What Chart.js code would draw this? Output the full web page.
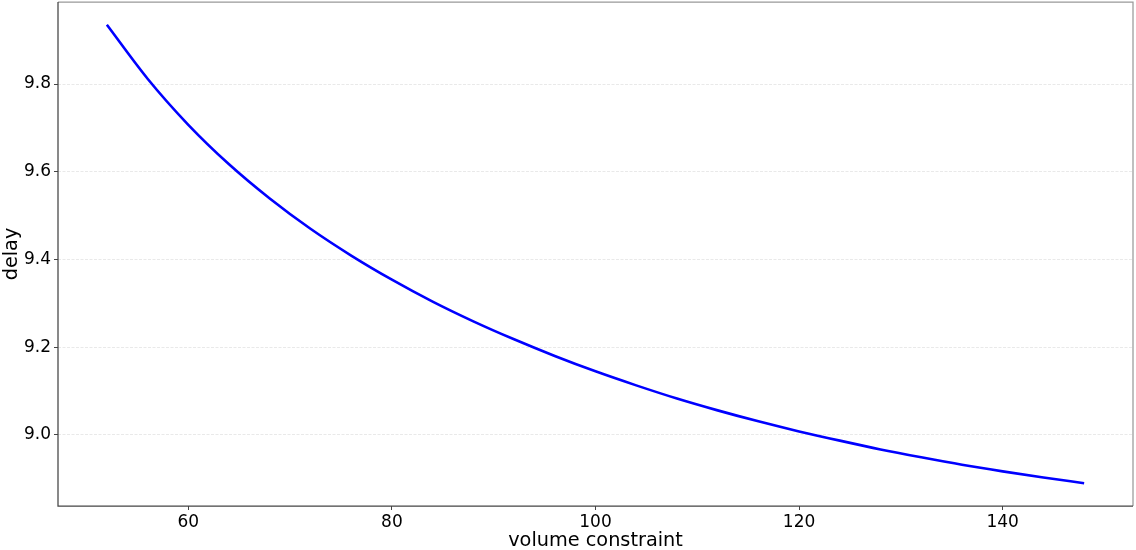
<!DOCTYPE html>
<html>
<head>
<meta charset="utf-8">
<script src="https://cdn.jsdelivr.net/npm/chart.js@4/dist/chart.umd.min.js"></script>
<style>
  html, body { margin: 0; padding: 0; background: #ffffff; }
  canvas { display: block; }
</style>
</head>
<body>
<canvas id="c" width="1136" height="550"></canvas>
<script>
const volumeConstraint = [52, 56, 60, 64, 68, 72, 76, 80, 84, 88, 92, 96, 100,
  104, 108, 112, 116, 120, 124, 128, 132, 136, 140, 144, 148];
const delay = [9.935, 9.812, 9.707, 9.617, 9.539, 9.470, 9.409, 9.354, 9.304,
  9.259, 9.218, 9.180, 9.145, 9.113, 9.083, 9.056, 9.031, 9.008, 8.987,
  8.967, 8.949, 8.932, 8.917, 8.903, 8.890];
const xTicks = [60, 80, 100, 120, 140];
const yTicks = [9.0, 9.2, 9.4, 9.6, 9.8];
const xLabel = 'volume constraint';
const yLabel = 'delay';

const FONT = "'DejaVu Sans', 'Liberation Sans', sans-serif";

const framePlugin = {
  id: 'frame',
  afterDraw(chart) {
    const { ctx, chartArea: a } = chart;
    ctx.save();
    ctx.lineWidth = 1.25;
    ctx.strokeStyle = '#999999';
    ctx.beginPath();
    ctx.moveTo(a.left, a.top);
    ctx.lineTo(a.right, a.top);
    ctx.lineTo(a.right, a.bottom);
    ctx.stroke();
    ctx.strokeStyle = '#444444';
    ctx.beginPath();
    ctx.moveTo(a.left, a.top);
    ctx.lineTo(a.left, a.bottom);
    ctx.lineTo(a.right, a.bottom);
    ctx.stroke();
    ctx.restore();
  }
};

new Chart(document.getElementById('c'), {
  type: 'line',
  data: {
    datasets: [{
      data: volumeConstraint.map((x, i) => ({ x: x, y: delay[i] })),
      borderColor: '#0000ff',
      borderWidth: 2.6,
      pointRadius: 0,
      fill: false,
      cubicInterpolationMode: 'monotone'
    }]
  },
  options: {
    responsive: false,
    animation: false,
    devicePixelRatio: 1,
    layout: { padding: { top: 2, right: 3, left: 0, bottom: 0 } },
    plugins: { legend: { display: false }, tooltip: { enabled: false } },
    scales: {
      x: {
        type: 'linear',
        min: 47.2,
        max: 152.8,
        afterBuildTicks: s => { s.ticks = xTicks.map(v => ({ value: v })); },
        afterFit: s => { s.height = 44; s.paddingLeft = 0; s.paddingRight = 0; },
        grid: {
          drawOnChartArea: false,
          drawTicks: true,
          tickLength: 4,
          tickColor: '#444444',
          tickWidth: 1
        },
        border: { display: false },
        ticks: {
          color: '#000000',
          padding: 2,
          maxRotation: 0,
          font: { family: FONT, size: 17 },
          callback: v => String(v)
        },
        title: {
          display: true,
          text: xLabel,
          color: '#000000',
          font: { family: FONT, size: 19.3 },
          padding: { top: 0, bottom: -3 }
        }
      },
      y: {
        type: 'linear',
        min: 8.838,
        max: 9.987,
        afterBuildTicks: s => { s.ticks = yTicks.map(v => ({ value: v })); },
        afterFit: s => { s.width = 58; s.paddingTop = 0; s.paddingBottom = 0; },
        grid: {
          drawOnChartArea: true,
          drawTicks: true,
          tickLength: 4,
          color: 'rgba(176,176,176,0.35)',
          lineWidth: 0.8,
          tickColor: '#444444',
          tickWidth: 1,
          tickBorderDash: [1, 0]
        },
        border: { display: false, dash: [3, 1.5] },
        ticks: {
          color: '#000000',
          padding: 3,
          font: { family: FONT, size: 17 },
          callback: v => Number(v).toFixed(1)
        },
        title: {
          display: true,
          text: yLabel,
          color: '#000000',
          font: { family: FONT, size: 19.3 },
          padding: { top: 0, bottom: 0 }
        }
      }
    }
  },
  plugins: [framePlugin]
});
</script>
</body>
</html>
